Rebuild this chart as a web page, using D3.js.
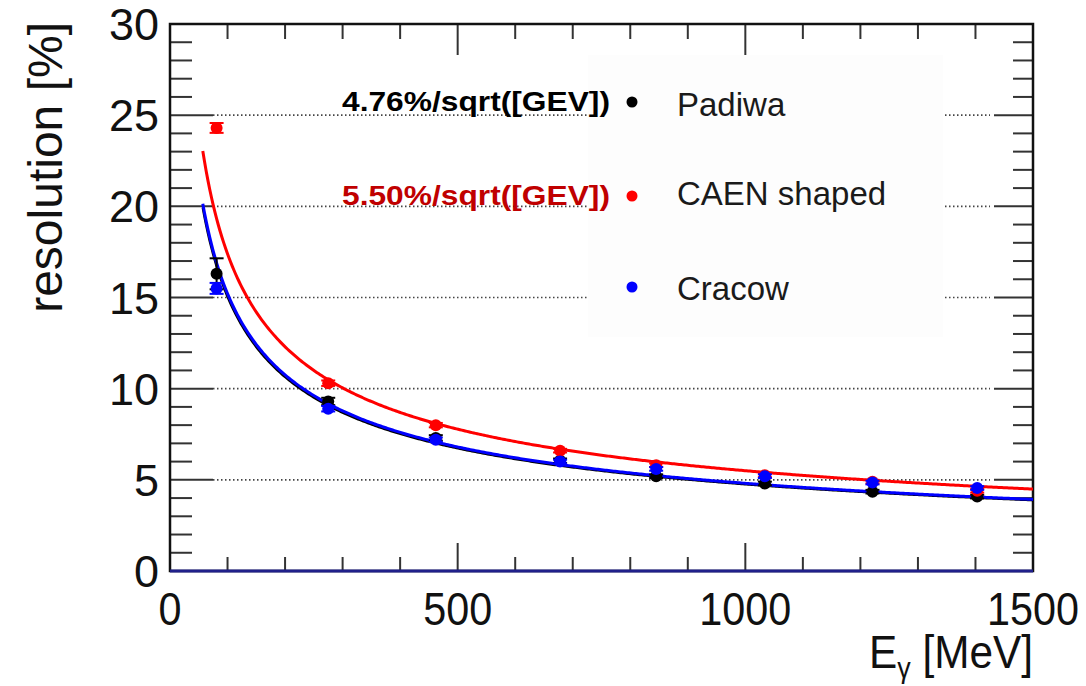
<!DOCTYPE html>
<html>
<head>
<meta charset="utf-8">
<script src="https://cdn.jsdelivr.net/npm/d3@7"></script>
<style>
  body { margin: 0; background: #fff; }
  svg { display: block; font-family: "Liberation Sans", Arial, sans-serif; }
</style>
</head>
<body>
<svg id="chart" width="1086" height="686"></svg>
<script>
// measured points (E in MeV, resolution in %)
const energy = [81, 275, 462, 678, 845, 1034, 1221, 1403]
const padiwa = [16.3, 9.3, 7.3, 6.05, 5.2, 4.8, 4.35, 4.08]
const padiwaErr = [0.85, 0.2, 0.15, 0.12, 0.1, 0.1, 0.1, 0.1]
const caen = [24.3, 10.3, 8.0, 6.6, 5.8, 5.25, 4.9, 4.4]
const caenErr = [0.27, 0.15, 0.12, 0.1, 0.1, 0.1, 0.1, 0.1]
const cracow = [15.5, 8.9, 7.2, 6.0, 5.6, 5.2, 4.85, 4.55]
const cracowErr = [0.3, 0.15, 0.12, 0.1, 0.1, 0.1, 0.1, 0.1]

// fit a/sqrt(E[GeV]) parameters
const fitNames = ['padiwa', 'caen', 'cracow']
const fitParams = [4.76, 5.50, 4.81]
const fitWidths = [2.5, 3, 3]
const fitRange = [57, 1500]

const xTicks = [0, 500, 1000, 1500]
const yTicks = [0, 5, 10, 15, 20, 25, 30]
const legendNames = ['Padiwa', 'CAEN shaped', 'Cracow']
const legendFormulas = ['4.76%/sqrt([GEV])', '5.50%/sqrt([GEV])', '']

const colors = { padiwa: '#000000', caen: '#ff0000', cracow: '#0000ff' }

const svg = d3.select('#chart')
const frame = { left: 170, right: 1033, top: 24, bottom: 571 }

const x = d3.scaleLinear().domain([0, 1500]).range([frame.left, frame.right])
const y = d3.scaleLinear().domain([0, 30]).range([frame.bottom, frame.top])

const majorLen = 41
// dotted grid between the long ticks
svg.append('g').selectAll('line')
  .data([5, 10, 15, 20, 25])
  .join('line')
  .attr('x1', frame.left + majorLen + 2).attr('x2', frame.right - majorLen - 2)
  .attr('y1', d => y(d)).attr('y2', d => y(d))
  .attr('stroke', '#444').attr('stroke-width', 1.6)
  .attr('stroke-dasharray', '1.5,2.5')

// legend box (covers grid)
svg.append('rect')
  .attr('x', 588).attr('y', 55).attr('width', 355).attr('height', 282)
  .attr('fill', '#fdfdfd')

// ticks
const tickG = svg.append('g').attr('stroke', '#333').attr('stroke-width', 2)
d3.range(0, 1501, 100).forEach(v => {
  const len = v % 500 === 0 ? 28 : 14
  tickG.append('line').attr('x1', x(v)).attr('x2', x(v))
    .attr('y1', frame.bottom).attr('y2', frame.bottom - len)
  tickG.append('line').attr('x1', x(v)).attr('x2', x(v))
    .attr('y1', frame.top).attr('y2', frame.top + (v % 500 === 0 ? 31 : 15))
})
d3.range(0, 31, 1).forEach(v => {
  const major = v % 5 === 0
  tickG.append('line').attr('y1', y(v)).attr('y2', y(v))
    .attr('x1', frame.left).attr('x2', frame.left + (major ? 43 : 22))
  tickG.append('line').attr('y1', y(v)).attr('y2', y(v))
    .attr('x1', frame.right).attr('x2', frame.right - (major ? 39 : 20))
})

// frame
svg.append('rect')
  .attr('x', frame.left).attr('y', frame.top)
  .attr('width', frame.right - frame.left).attr('height', frame.bottom - frame.top)
  .attr('fill', 'none').attr('stroke', '#111').attr('stroke-width', 2.5)
svg.append('line')
  .attr('x1', frame.left).attr('x2', frame.right)
  .attr('y1', frame.bottom).attr('y2', frame.bottom)
  .attr('stroke', '#20208a').attr('stroke-width', 3)

// tick labels
svg.append('g').selectAll('text')
  .data(yTicks)
  .join('text')
  .attr('x', 159).attr('y', d => y(d) + 16)
  .attr('text-anchor', 'end')
  .attr('font-size', 45).attr('fill', '#111')
  .text(d => d)

svg.append('g').selectAll('text')
  .data(xTicks)
  .join('text')
  .attr('transform', d => `translate(${x(d)},625) scale(0.88,1)`)
  .attr('text-anchor', 'middle')
  .attr('font-size', 47).attr('fill', '#111')
  .text(d => d)

// axis titles
svg.append('text')
  .attr('transform', 'translate(62,22) rotate(-90)')
  .attr('text-anchor', 'end')
  .attr('font-size', 48).attr('fill', '#111')
  .text('resolution [%]')

const xt = svg.append('text')
  .attr('transform', 'translate(1033,668) scale(0.9,1)')
  .attr('text-anchor', 'end')
  .attr('font-size', 47).attr('fill', '#111')
xt.append('tspan').text('E')
xt.append('tspan').attr('font-size', 30).attr('dy', 10).text('γ')
xt.append('tspan').attr('dy', -10).text(' [MeV]')

// fit curves
const line = d3.line().x(d => x(d[0])).y(d => y(d[1]))
const fitSamples = d3.range(fitRange[0], fitRange[1] + 1, 3)
fitNames.forEach((name, i) => {
  const pts = fitSamples.map(e => [e, fitParams[i] / Math.sqrt(e / 1000)])
  svg.append('path')
    .datum(pts)
    .attr('d', line)
    .attr('fill', 'none')
    .attr('stroke', colors[name])
    .attr('stroke-width', fitWidths[i])
})

// points with error bars
const series = [
  { name: 'padiwa', vals: padiwa, errs: padiwaErr },
  { name: 'caen', vals: caen, errs: caenErr },
  { name: 'cracow', vals: cracow, errs: cracowErr }
]
series.forEach(s => {
  const g = svg.append('g').attr('fill', colors[s.name]).attr('stroke', colors[s.name])
  energy.forEach((e, i) => {
    const cx = x(e)
    const lo = y(s.vals[i] - s.errs[i])
    const hi = y(s.vals[i] + s.errs[i])
    g.append('line').attr('x1', cx).attr('x2', cx).attr('y1', lo).attr('y2', hi).attr('stroke-width', 2)
    g.append('line').attr('x1', cx - 7).attr('x2', cx + 7).attr('y1', lo).attr('y2', lo).attr('stroke-width', 2)
    g.append('line').attr('x1', cx - 7).attr('x2', cx + 7).attr('y1', hi).attr('y2', hi).attr('stroke-width', 2)
    g.append('circle').attr('cx', cx).attr('cy', y(s.vals[i])).attr('r', 6).attr('stroke', 'none')
  })
})

// legend
const legendY = [102, 196, 287]
const labelY = [116, 205, 300]
fitNames.forEach((name, i) => {
  svg.append('circle')
    .attr('cx', 632).attr('cy', legendY[i]).attr('r', 5.5)
    .attr('fill', colors[name])
  svg.append('text')
    .attr('x', 677).attr('y', labelY[i])
    .attr('font-size', 33).attr('fill', '#1a1a1a')
    .text(legendNames[i])
  if (legendFormulas[i]) {
    svg.append('text')
      .attr('x', 610).attr('y', legendY[i] + 9)
      .attr('text-anchor', 'end')
      .attr('font-size', 28).attr('font-weight', 'bold')
      .attr('fill', i === 0 ? '#000' : '#c00000')
      .attr('textLength', 268).attr('lengthAdjust', 'spacingAndGlyphs')
      .text(legendFormulas[i])
  }
})
</script>
</body>
</html>
